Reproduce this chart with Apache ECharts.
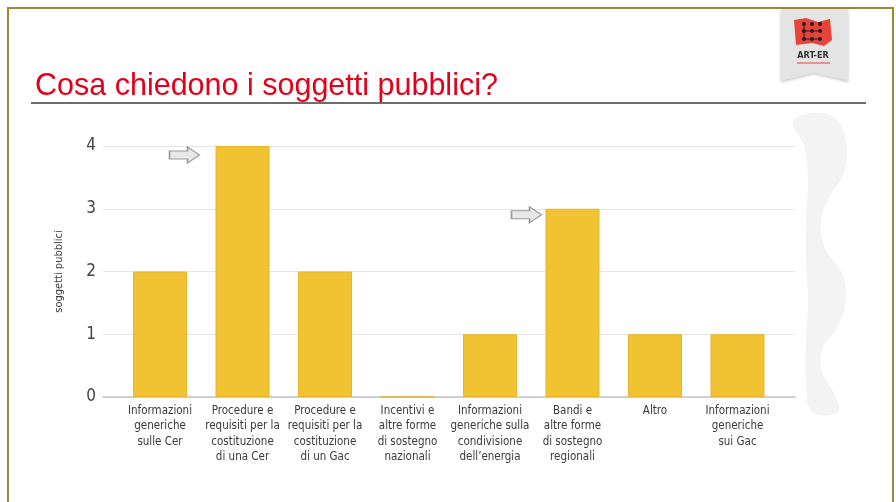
<!DOCTYPE html>
<html>
<head>
<meta charset="utf-8">
<script src="https://cdn.jsdelivr.net/npm/echarts@6/dist/echarts.min.js"></script>
<style>
  html, body { margin: 0; padding: 0; background: #ffffff; }
  #chart { width: 896px; height: 502px; }
</style>
</head>
<body>
<div id="chart"></div>
<script>
// Richieste dei soggetti pubblici per tema
const categories = [
  'Informazioni\ngeneriche\nsulle Cer',
  'Procedure e\nrequisiti per la\ncostituzione\ndi una Cer',
  'Procedure e\nrequisiti per la\ncostituzione\ndi un Gac',
  'Incentivi e\naltre forme\ndi sostegno\nnazionali',
  'Informazioni\ngeneriche sulla\ncondivisione\ndell\u2019energia',
  'Bandi e\naltre forme\ndi sostegno\nregionali',
  'Altro',
  'Informazioni\ngeneriche\nsui Gac'
];
const soggetti = [2, 4, 2, 0, 1, 3, 1, 1];
const yTicks = [0, 1, 2, 3, 4];
// categories pointed out by the grey arrows
const highlighted = [1, 5];

const titleText = 'Cosa chiedono i soggetti pubblici?';
const axisTitle = 'soggetti pubblici';

const narrow = '"DejaVu Sans Condensed", "Liberation Sans", sans-serif';
const arrowPath = 'path://M0,4 L18,4 L18,0 L30,8 L18,16 L18,12 L0,12 Z';

const chart = echarts.init(document.getElementById('chart'), null, { renderer: 'canvas' });

const arrowOffsets = [[-58, 9], [-46, 6]];

// outline of the light wavy band at the right edge
const wave = [
  [793, 122], [812, 113], [835, 118], [846, 142], [844, 172], [830, 196], [821, 220],
  [826, 250], [842, 273], [846, 300], [837, 328], [823, 348], [822, 372], [835, 395], [838, 412],
  [812, 412], [806, 380], [806, 340], [808, 300], [806, 260], [806, 220], [808, 180], [804, 145]
];

const dots = [[804, 24], [812, 24], [820, 24], [804, 31], [812, 31], [820, 31], [804, 39], [812, 39], [820, 39]];

chart.setOption({
  backgroundColor: '#ffffff',
  animation: false,
  title: {
    text: titleText,
    left: 30,
    top: 66,
    textStyle: {
      color: '#e2001a',
      fontSize: 30.5,
      fontWeight: 'normal',
      fontFamily: '"Liberation Sans", Arial, sans-serif'
    }
  },
  grid: [
    { left: 103, right: 101, top: 146, bottom: 105 },
    { left: 118.75, right: 117.25, top: 146, bottom: 105 }
  ],
  xAxis: [
    {
      gridIndex: 0, type: 'value', min: 0, max: 1,
      axisLine: { show: true, lineStyle: { color: '#c4c4c4', width: 1.5 } },
      axisTick: { show: false }, axisLabel: { show: false }, splitLine: { show: false }
    },
    {
      gridIndex: 1, type: 'category', data: categories,
      axisLine: { show: false }, axisTick: { show: false },
      axisLabel: {
        interval: 0, margin: 6,
        color: '#3a3a3a', fontSize: 11.5, lineHeight: 15.5,
        fontFamily: narrow, align: 'center'
      }
    }
  ],
  yAxis: [
    {
      gridIndex: 0, type: 'value', min: yTicks[0], max: yTicks[yTicks.length - 1], interval: 1,
      name: axisTitle, nameLocation: 'middle', nameGap: 38, nameRotate: 90,
      nameTextStyle: { color: '#3a3a3a', fontSize: 11, fontFamily: narrow },
      axisLine: { show: false }, axisTick: { show: false },
      axisLabel: { color: '#444', fontSize: 17, fontFamily: narrow, margin: 7 },
      splitLine: { lineStyle: { color: '#e6e6e6', width: 1 } }
    },
    {
      gridIndex: 1, type: 'value', min: yTicks[0], max: yTicks[yTicks.length - 1], interval: 1,
      show: false, splitLine: { show: false }
    }
  ],
  series: [
    {
      type: 'bar',
      xAxisIndex: 1, yAxisIndex: 1,
      data: soggetti,
      barWidth: 54,
      itemStyle: { color: '#f1c232', borderColor: '#eab52c', borderWidth: 1 },
      markPoint: {
        symbol: arrowPath,
        symbolSize: [30, 16],
        itemStyle: { color: '#e8e8e8', borderColor: '#9a9a9a', borderWidth: 1.2 },
        label: { show: false },
        data: highlighted.map((i, k) => ({
          coord: [i, soggetti[i]],
          symbolOffset: arrowOffsets[k]
        }))
      }
    }
  ],
  graphic: [
    // page frame
    { type: 'polyline', silent: true, shape: { points: [[8, 502], [8, 8], [893, 8], [893, 502]] },
      style: { stroke: '#9a8b36', lineWidth: 2, fill: null } },
    // title rule
    { type: 'line', silent: true, shape: { x1: 31, y1: 103, x2: 866, y2: 103 },
      style: { stroke: '#3c3c3c', lineWidth: 1.5 } },
    // decorative wavy band on the right
    { type: 'polygon', silent: true, z: -1,
      shape: { points: wave, smooth: 0.4 },
      style: { fill: '#f3f3f3' } },
    // logo ribbon
    { type: 'polygon', silent: true, shape: { points: [[781, 9], [848, 9], [848, 81], [814, 73], [781, 81]] },
      style: { fill: '#e4e4e4', shadowBlur: 3, shadowColor: 'rgba(0,0,0,0.25)', shadowOffsetY: 1 } },
    { type: 'polygon', silent: true, shape: { points: [[794, 20], [806, 18], [818, 22], [830, 19], [832, 40], [824, 46], [812, 43], [796, 45]] },
      style: { fill: '#e8433a' } },
    ...dots.map(p => ({
      type: 'circle', silent: true, shape: { cx: p[0], cy: p[1], r: 2 }, style: { fill: '#222' }
    })),
    { type: 'line', silent: true, shape: { x1: 804, y1: 24, x2: 804, y2: 39 }, style: { stroke: '#222', lineWidth: 1 } },
    { type: 'line', silent: true, shape: { x1: 804, y1: 31, x2: 820, y2: 31 }, style: { stroke: '#222', lineWidth: 1 } },
    { type: 'line', silent: true, shape: { x1: 804, y1: 39, x2: 820, y2: 39 }, style: { stroke: '#222', lineWidth: 1 } },
    { type: 'text', silent: true, style: { text: 'ART-ER', x: 813, y: 56, align: 'center', verticalAlign: 'middle',
      fill: '#333', font: 'bold 9px "DejaVu Sans Condensed", sans-serif' } },
    { type: 'line', silent: true, shape: { x1: 797, y1: 63, x2: 830, y2: 63 }, style: { stroke: '#e8433a', lineWidth: 1 } }
  ]
});
</script>
</body>
</html>
